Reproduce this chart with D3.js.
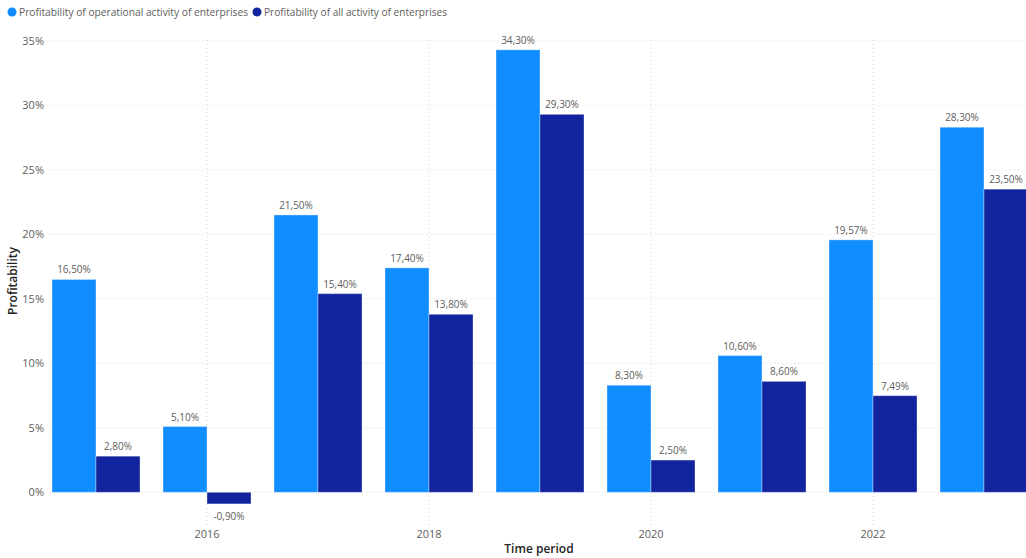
<!DOCTYPE html>
<html><head><meta charset="utf-8">
<script src="https://cdn.jsdelivr.net/npm/d3@7"></script>
<style>body{margin:0;background:#fff;} svg{display:block;font-family:"Open Sans",sans-serif;}</style>
</head><body><svg id="c" width="1026" height="558"></svg>
<script>
const years = ["2015","2016","2017","2018","2019","2020","2021","2022","2023"];
const seriesNames = ["Profitability of operational activity of enterprises","Profitability of all activity of enterprises"];
const operational = [16.5, 5.1, 21.5, 17.4, 34.3, 8.3, 10.6, 19.57, 28.3];
const allActivity = [2.8, -0.9, 15.4, 13.8, 29.3, 2.5, 8.6, 7.49, 23.5];
const yTicks = [0,5,10,15,20,25,30,35];
const xTickLabels = ["2016","2018","2020","2022"];
const colors = ["#118DFF","#12239E"];

const svg = d3.select("#c");
const W = 1026, H = 558;
const x = d3.scaleBand().domain(years).range([52, 1028]).paddingInner(23/111).paddingOuter(0);
const x1 = d3.scaleBand().domain([0,1]).range([0, x.bandwidth()]);
const y = d3.scaleLinear().domain([0,35]).range([492.3, 40.8]);

// horizontal gridlines
svg.append("g").selectAll("line").data(yTicks).join("line")
  .attr("x1",50).attr("x2",W).attr("y1",d=>y(d)).attr("y2",d=>y(d))
  .attr("stroke","#d6d6d6").attr("stroke-dasharray","1,3").attr("stroke-width",1);
// y labels
svg.append("g").selectAll("text").data(yTicks).join("text")
  .attr("x",44).attr("y",d=>y(d)).attr("dy","0.35em").attr("text-anchor","end")
  .attr("font-size",11).attr("fill","#605E5C").text(d=>d+"%");
// vertical gridlines at labeled ticks
svg.append("g").selectAll("line").data(xTickLabels).join("line")
  .attr("x1",d=>x(d)+x.bandwidth()/2).attr("x2",d=>x(d)+x.bandwidth()/2)
  .attr("y1",40).attr("y2",526)
  .attr("stroke","#d6d6d6").attr("stroke-dasharray","1,3").attr("stroke-width",1);
svg.append("g").selectAll("text").data(xTickLabels).join("text")
  .attr("x",d=>x(d)+x.bandwidth()/2).attr("y",538).attr("text-anchor","middle")
  .attr("font-size",11).attr("fill","#605E5C").text(d=>d);

const fmt = v => v.toFixed(2).replace(".",",")+"%";
const series = [operational, allActivity];
series.forEach((vals, si) => {
  const g = svg.append("g");
  g.selectAll("rect").data(years).join("rect")
    .attr("x",(d)=>x(d)+x1(si)).attr("width",x1.bandwidth())
    .attr("y",(d,i)=>y(Math.max(0,vals[i])))
    .attr("height",(d,i)=>Math.abs(y(vals[i])-y(0)))
    .attr("fill",colors[si]).attr("stroke","rgba(255,255,255,0.35)").attr("stroke-width",1);
  g.selectAll("text").data(years).join("text")
    .attr("x",d=>x(d)+x1(si)+x1.bandwidth()/2)
    .attr("y",(d,i)=>vals[i]>=0 ? y(vals[i])-6 : y(vals[i])+16)
    .attr("text-anchor","middle").attr("font-size",10).attr("fill","#605E5C")
    .text((d,i)=>fmt(vals[i]));
});

// axis titles
svg.append("text").attr("x",539).attr("y",553).attr("text-anchor","middle")
  .attr("font-size",12).attr("font-weight",600).attr("fill","#252423").text("Time period");
svg.append("text").attr("transform","translate(17,281) rotate(-90)").attr("text-anchor","middle")
  .attr("font-size",12).attr("font-weight",600).attr("fill","#252423").text("Profitability");

// legend
const lg = svg.append("g");
const legendX = [12, 257];
const legendW = [229, 183];
seriesNames.forEach((n,i)=>{
  lg.append("circle").attr("cx",legendX[i]).attr("cy",12).attr("r",4.5).attr("fill",colors[i]);
  lg.append("text").attr("x",legendX[i]+7).attr("y",12).attr("dy","0.35em")
    .attr("font-size",11.5).attr("fill","#605E5C").text(n)
    .attr("textLength",legendW[i]).attr("lengthAdjust","spacingAndGlyphs");
});
</script></body></html>
